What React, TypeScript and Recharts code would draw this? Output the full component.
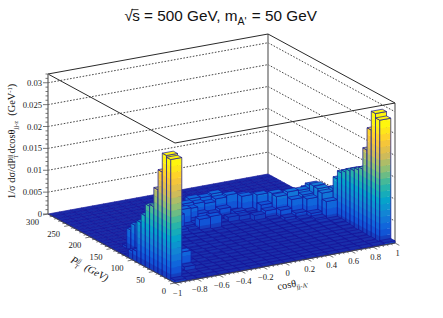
import React from "react";
import { ScatterChart, Scatter, XAxis, YAxis } from "recharts";

const W = 443;
const H = 318;
// heights are stored in units of 1e-4 per pT bin (10 GeV), one list per cos(theta) bin (0.1)
const col00 = [6,277,281,238,192,148,144,117,96,25,20,4,2];
const col01 = [3,3,4,5,6,8,10,10,8,14,70,72,64,48,6];
const col02 = [2,2,3,12,40,6,5,7,6,8,9,20,45,58,50,12];
const col03 = [2,3,2,3,4,5,6,4,8,6,10,12,18,45,55,50,14,2];
const col04 = [2,1,2,3,2,4,3,5,4,6,5,7,8,14,22,46,50,36,6,1];
const col05 = [1,2,1,2,3,2,4,3,5,4,6,5,7,9,16,30,44,50,20,2];
const col06 = [1,1,2,1,2,3,2,4,3,4,5,4,6,7,8,14,42,34,48,12,1];
const col07 = [1,1,1,2,1,2,3,2,3,4,3,5,4,6,7,10,14,46,42,30,8];
const col08 = [1,1,2,1,1,2,2,3,2,3,4,3,5,4,6,30,8,16,38,44,34,6];
const col09 = [1,1,1,1,2,1,2,2,3,2,3,4,3,5,4,32,6,12,22,40,46,20,2];
const col10 = [1,1,1,1,1,2,1,2,2,3,2,3,3,4,5,6,8,10,18,36,44,38,6];
const col11 = [1,1,1,1,1,1,2,2,2,2,3,3,3,4,4,5,16,8,24,42,48,30,4];
const col12 = [1,1,1,1,1,2,1,2,2,3,2,3,4,3,5,4,14,18,12,46,38,34,2];
const col13 = [1,1,1,1,2,1,2,2,3,2,3,4,4,5,5,16,10,14,44,40,12,4];
const col14 = [1,1,2,1,2,2,2,3,3,4,4,4,5,6,8,22,30,48,42,10,2];
const col15 = [1,2,1,2,2,3,3,3,4,4,5,6,6,12,24,50,52,44,8,1];
const col16 = [2,1,2,2,3,3,3,4,4,5,6,8,10,18,44,56,48,12,2];
const col17 = [2,2,2,3,3,3,4,4,5,6,8,12,18,46,50,55,30,4];
const col18 = [3,2,3,2,3,4,3,5,6,8,8,46,60,65,66,62,50,12,2];
const col19 = [5,280,290,247,196,147,140,133,127,119,112,93,66,30,6,2];
const columns = [col00,col01,col02,col03,col04,col05,col06,col07,col08,col09,col10,col11,col12,col13,col14,col15,col16,col17,col18,col19];

const zTicks = [0, 0.005, 0.01, 0.015, 0.02, 0.025, 0.03];
const zLabels = ["0", "0.005", "0.01", "0.015", "0.02", "0.025", "0.03"];
const pTicks = [0, 50, 100, 150, 200, 250, 300];
const cTicks = [-1, -0.8, -0.6, -0.4, -0.2, 0, 0.2, 0.4, 0.6, 0.8, 1];
const cLabels = ["\u22121", "\u22120.8", "\u22120.6", "\u22120.4", "\u22120.2", "0", "0.2", "0.4", "0.6", "0.8", "1"];

const ZMAX = 0.032;
const NB = 20;
const proj = (c: number, p: number, z: number) => ({
  x: 175 + ((c + 1) / 2) * 220 - (p / 300) * 127,
  y: 283 - ((c + 1) / 2) * 40 - (p / 300) * 69 - (z / ZMAX) * 140,
});
const stepC = { x: 11, y: -2 };
const stepP = { x: -127 / 30, y: -69 / 30 };
const zPx = 140 / ZMAX;
const bandH = 0.029 / NB;

const R = [0.1, 0.0592, 0.078, 0.0232, 0.1802, 0.5301, 0.8186, 0.9956, 0.9964];
const G = [0.17, 0.3599, 0.5041, 0.6419, 0.7178, 0.7492, 0.7328, 0.7862, 0.9632];
const B = [0.66, 0.8684, 0.8385, 0.7914, 0.6425, 0.4662, 0.3499, 0.1968, 0.0539];
const bird = (t: number, k = 1) => {
  const u = Math.max(0, Math.min(1, t)) * 8;
  const a = Math.min(7, Math.floor(u));
  const f = u - a;
  const m = (s: number[]) => Math.round(Math.min(1, (s[a] + (s[a + 1] - s[a]) * f) * k) * 255);
  return `rgb(${m(R)},${m(G)},${m(B)})`;
};

const EDGE = "#16169a";
const pts = (a: { x: number; y: number }[]) => a.map((q) => `${q.x.toFixed(2)},${q.y.toFixed(2)}`).join(" ");

const cells: any[] = [];
for (let j = 29; j >= 0; j--) {
  for (let i = 19; i >= 0; i--) {
    const z = (columns[i][j] || 0) * 1e-4;
    const b = proj(-1 + i * 0.1, j * 10, 0);
    cells.push({ x: b.x, y: b.y, z });
  }
}

function face(cx: number, cy: number, v: { x: number; y: number }, z: number, key: string) {
  const out: any[] = [];
  const n = Math.ceil(z / bandH);
  for (let l = 0; l < n; l++) {
    const z0 = l * bandH;
    const z1 = Math.min(z, (l + 1) * bandH);
    const col = bird((l + 1) / (NB * 0.94));
    const a = [
      { x: cx, y: cy - z0 * zPx },
      { x: cx + v.x, y: cy + v.y - z0 * zPx },
      { x: cx + v.x, y: cy + v.y - z1 * zPx },
      { x: cx, y: cy - z1 * zPx },
    ];
    out.push(<polygon key={key + l} points={pts(a)} fill={col} stroke={col} strokeWidth={0.3} />);
  }
  const o = [
    { x: cx, y: cy },
    { x: cx + v.x, y: cy + v.y },
    { x: cx + v.x, y: cy + v.y - z * zPx },
    { x: cx, y: cy - z * zPx },
  ];
  out.push(<polygon key={key + "o"} points={pts(o)} fill="none" stroke={EDGE} strokeWidth={0.7} />);
  return out;
}

const BarShape = (props: any) => {
  const { cx, cy, payload } = props;
  const z = payload.z;
  const h = z * zPx;
  const t = Math.min(1, z / 0.0272);
  const top = [
    { x: cx, y: cy - h },
    { x: cx + stepC.x, y: cy + stepC.y - h },
    { x: cx + stepC.x + stepP.x, y: cy + stepC.y + stepP.y - h },
    { x: cx + stepP.x, y: cy + stepP.y - h },
  ];
  return (
    <g>
      {z > 0 && face(cx, cy, stepP, z, "l")}
      {z > 0 && face(cx, cy, stepC, z, "r")}
      <polygon points={pts(top)} fill={bird(t)} stroke={EDGE} strokeWidth={0.7} />
    </g>
  );
};

const seg = (a: any, b: any, color: string, w: number, dash?: string) => ({ x: a.x, y: a.y, x2: b.x, y2: b.y, color, w, dash });
const backLines: any[] = [];
const LINE = "#2a2a2a";
for (const z of zTicks.slice(1)) {
  backLines.push(seg(proj(-1, 300, z), proj(1, 300, z), "#333", 0.9, "1.6 1.6"));
  backLines.push(seg(proj(1, 300, z), proj(1, 0, z), "#333", 0.9, "1.6 1.6"));
}
backLines.push(seg(proj(1, 300, 0), proj(1, 300, ZMAX), "#8a8a8a", 1.6));
backLines.push(seg(proj(1, 0, 0), proj(1, 0, ZMAX), "#8a8a8a", 1.6));
backLines.push(seg(proj(-1, 300, ZMAX), proj(1, 300, ZMAX), LINE, 1));
backLines.push(seg(proj(1, 300, ZMAX), proj(1, 0, ZMAX), LINE, 1));
backLines.push(seg(proj(-1, 300, ZMAX), proj(-1, 0, ZMAX), LINE, 1));
backLines.push(seg(proj(-1, 0, ZMAX), proj(1, 0, ZMAX), LINE, 1));

const axisLines: any[] = [];
axisLines.push(seg(proj(-1, 300, 0), proj(-1, 300, ZMAX), "#777", 1.4));
axisLines.push(seg(proj(-1, 300, 0), proj(-1, 0, 0), "#444", 0.9));
axisLines.push(seg(proj(-1, 0, 0), proj(1, 0, 0), "#444", 0.9));
for (let m = 0; m <= 32; m++) {
  const a = proj(-1, 300, m * 0.001);
  const len = m % 5 === 0 ? 5 : 2.5;
  axisLines.push(seg(a, { x: a.x - len, y: a.y }, "#555", 0.8));
}
for (let m = 0; m <= 30; m++) {
  const a = proj(-1, m * 10, 0);
  const len = m % 5 === 0 ? 5 : 2.5;
  axisLines.push(seg(a, { x: a.x - len, y: a.y + len * 0.18 }, "#555", 0.8));
}
for (let m = 0; m <= 50; m++) {
  const a = proj(-1 + m * 0.04, 0, 0);
  const len = m % 5 === 0 ? 5 : 2.5;
  axisLines.push(seg(a, { x: a.x + len * 0.87, y: a.y + len * 0.47 }, "#555", 0.8));
}

const SegShape = (props: any) => {
  const { cx, cy, payload: s } = props;
  return <line x1={cx} y1={cy} x2={cx + s.x2 - s.x} y2={cy + s.y2 - s.y} stroke={s.color} strokeWidth={s.w} strokeDasharray={s.dash} />;
};

const tickTexts: any[] = [];
zTicks.forEach((z, k) => {
  const a = proj(-1, 300, z);
  tickTexts.push({ x: a.x - 6, y: a.y + 3, text: zLabels[k], anchor: "end" });
});
pTicks.forEach((p) => {
  const a = proj(-1, p, 0);
  tickTexts.push({ x: a.x - 9, y: a.y + 11, text: String(p), anchor: "end" });
});
cTicks.forEach((c, k) => {
  const a = proj(c, 0, 0);
  tickTexts.push({ x: a.x + 2.7, y: a.y + 13, text: cLabels[k], anchor: "middle" });
});
const TickText = (props: any) => {
  const { cx, cy, payload: s } = props;
  return (
    <text x={cx} y={cy} textAnchor={s.anchor} fontFamily="Liberation Serif" fontSize={8.6} fill="#222">
      {s.text}
    </text>
  );
};

const SERIF = "Liberation Serif";
const titles = [{ x: 0, y: 0 }];
const Titles = (props: any) => {
  const { cx, cy } = props;
  return (
    <g>
      <text x={cx + 124.5} y={cy + 20.5} fontFamily="Liberation Sans" fontSize={15.3} fill="#111">
        <tspan>{"\u221A"}</tspan>
        <tspan dx={-0.7}>s = 500 GeV, m</tspan>
        <tspan dy={4.5} fontSize={10.5}>A'</tspan>
        <tspan dy={-4.5} dx={1}> = 50 GeV</tspan>
      </text>
      <line x1={cx + 131.5} y1={cy + 9.6} x2={cx + 138.5} y2={cy + 9.6} stroke="#111" strokeWidth={0.8} />
      <text transform={`translate(${cx + 15},${cy + 199}) rotate(-90)`} fontFamily={SERIF} fontSize={10.4} fill="#111">
        <tspan>1/σ dσ/dP</tspan>
        <tspan dy={-3.5} fontSize={6.5}>jj</tspan>
        <tspan dy={6.5} dx={-4} fontSize={6.5}>T</tspan>
        <tspan dy={-3} dx={1}>dcosθ</tspan>
        <tspan dy={2.5} fontSize={6.5}>jj-z</tspan>
        <tspan dy={-2.5} dx={5}>(GeV</tspan>
        <tspan dy={-3.5} fontSize={6.5}>-1</tspan>
        <tspan dy={3.5}>)</tspan>
      </text>
      <text transform={`translate(${cx + 70},${cy + 262}) rotate(28.5)`} fontFamily={SERIF} fontSize={10.4} fontStyle="italic" fill="#111">
        <tspan>P</tspan>
        <tspan dy={-3.5} fontSize={6.5}>jj</tspan>
        <tspan dy={6.5} dx={-4} fontSize={6.5}>T</tspan>
        <tspan dy={-3} dx={6}>(GeV)</tspan>
      </text>
      <text transform={`translate(${cx + 278},${cy + 290}) rotate(-10.3)`} fontFamily={SERIF} fontSize={10.4} fill="#111">
        <tspan>cosθ</tspan>
        <tspan dy={2.5} fontSize={6.5}>jj-A'</tspan>
      </text>
    </g>
  );
};

export default function App() {
  return (
    <div style={{ position: "absolute", left: 0, top: 0, width: W, height: H, background: "#fff" }}>
      <ScatterChart width={W} height={H} margin={{ top: 0, right: 0, bottom: 0, left: 0 }}>
        <XAxis type="number" dataKey="x" domain={[0, W]} hide />
        <YAxis type="number" dataKey="y" domain={[0, H]} reversed hide />
        <Scatter data={backLines} shape={SegShape} isAnimationActive={false} />
        <Scatter data={cells} shape={BarShape} isAnimationActive={false} />
        <Scatter data={axisLines} shape={SegShape} isAnimationActive={false} />
        <Scatter data={tickTexts} shape={TickText} isAnimationActive={false} />
        <Scatter data={titles} shape={Titles} isAnimationActive={false} />
      </ScatterChart>
    </div>
  );
}
